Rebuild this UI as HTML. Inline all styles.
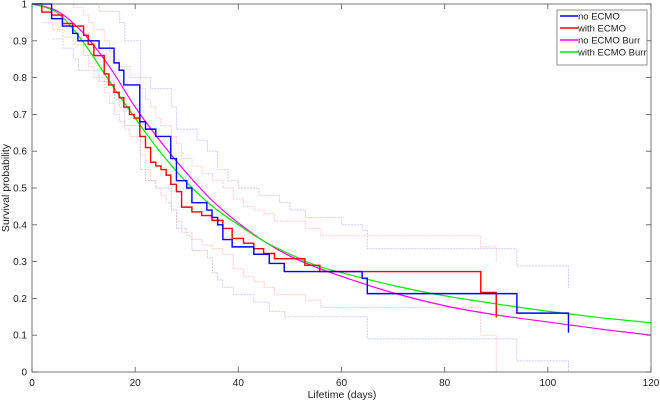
<!DOCTYPE html>
<html><head><meta charset="utf-8"><style>
body{margin:0;background:#fff;}
svg{display:block;font-family:"Liberation Sans",sans-serif;}
</style></head><body>
<svg id="chart" width="660" height="404" viewBox="0 0 660 404" xmlns="http://www.w3.org/2000/svg">
<rect x="0" y="0" width="660" height="404" fill="#fff"/>
<g id="bands"></g>
<g id="series"></g>
<g id="axes"></g>
<text x="342" y="398" font-size="10.5" text-anchor="middle" fill="#222">Lifetime (days)</text>
<text x="0" y="0" font-size="10.5" text-anchor="middle" fill="#222" transform="translate(9,188) rotate(-90)">Survival probability</text>
<g>
<rect x="557" y="10" width="90" height="55" fill="#fff" stroke="#777" stroke-width="0.8"/>
<g><line x1="560" y1="16" x2="578" y2="16" stroke="#0000ff" stroke-width="1.5"/><text x="578" y="19.5" font-size="9.5" fill="#222">no ECMO</text></g>
<g><line x1="560" y1="28" x2="578" y2="28" stroke="#ff0000" stroke-width="1.5"/><text x="578" y="31.5" font-size="9.5" fill="#222">with ECMO</text></g>
<g><line x1="560" y1="40" x2="578" y2="40" stroke="#ff00ff" stroke-width="1.5"/><text x="578" y="43.5" font-size="9.5" fill="#222">no ECMO Burr</text></g>
<g><line x1="560" y1="52" x2="578" y2="52" stroke="#00ee00" stroke-width="1.5"/><text x="578" y="55.5" font-size="9.5" fill="#222">with ECMO Burr</text></g>
</g>
</svg>
<script>
const xTicks=[0,20,40,60,80,100,120];
const yTicks=[0,0.1,0.2,0.3,0.4,0.5,0.6,0.7,0.8,0.9,1];
const yTickLabels=["0","0.1","0.2","0.3","0.4","0.5","0.6","0.7","0.8","0.9","1"];
const noEcmoDays=[0,3.8,5.9,7.9,8.9,13,15.9,16.9,17.8,20.9,22,24,26.9,28,30,31,33.9,34.9,36,37,38.8,43,46,48.9,64,65,94,104];
const noEcmoSurv=[1,0.96,0.94,0.92,0.90,0.88,0.84,0.82,0.78,0.68,0.66,0.64,0.58,0.52,0.50,0.46,0.44,0.42,0.40,0.36,0.34,0.32,0.295,0.273,0.255,0.213,0.16,0.107];
const withEcmoDays=[0,1.9,3.8,5.9,7.9,10,10.9,12,14,14.9,15.9,16.9,17.8,18.9,19.8,20.9,22,23,24,25,26,26.9,28,29,31,32.9,34.9,37,38.8,41,43,44.9,47,52.9,55.8,87,90];
const withEcmoSurv=[1,0.978,0.97,0.947,0.94,0.915,0.89,0.86,0.81,0.78,0.76,0.745,0.72,0.70,0.69,0.64,0.61,0.57,0.56,0.55,0.535,0.51,0.49,0.448,0.435,0.425,0.412,0.39,0.363,0.35,0.335,0.322,0.308,0.29,0.273,0.216,0.148];
const noEcmoUpDays=[0,13,17,18,21,23,27,28,32,34,36,38,40,44,48,50,53,60,64,65,94,104];
const noEcmoUpSurv=[1,0.98,0.95,0.9,0.8,0.77,0.72,0.66,0.63,0.6,0.55,0.52,0.5,0.48,0.46,0.44,0.42,0.40,0.385,0.335,0.288,0.228];
const noEcmoLoDays=[4,6,8,9,13,16,17,18,21,22,24,27,28,30,31,34,35,36,37,39,43,46,49,65,94,104];
const noEcmoLoSurv=[0.905,0.88,0.85,0.82,0.79,0.74,0.72,0.67,0.55,0.52,0.50,0.44,0.39,0.37,0.33,0.31,0.27,0.25,0.23,0.21,0.19,0.165,0.15,0.09,0.03,0];
const withEcmoUpDays=[0,8,10,11,12,14,15,16,17,19,21,22,23,24,25,27,28,29,31,33,35,37,39,41,43,45,47,53,56,87,90];
const withEcmoUpSurv=[1,0.99,0.97,0.95,0.93,0.9,0.87,0.85,0.83,0.8,0.77,0.74,0.72,0.69,0.67,0.64,0.62,0.58,0.56,0.54,0.52,0.5,0.47,0.45,0.44,0.43,0.41,0.39,0.37,0.34,0.30];
const withEcmoLoDays=[2,4,6,8,10,11,12,14,15,16,17,18,19,21,22,23,24,25,26,27,28,29,31,33,35,37,39,41,43,45,47,53,56,87,90];
const withEcmoLoSurv=[0.95,0.93,0.91,0.89,0.86,0.83,0.80,0.76,0.73,0.70,0.68,0.66,0.64,0.59,0.55,0.52,0.50,0.48,0.46,0.44,0.41,0.38,0.36,0.345,0.335,0.32,0.28,0.26,0.245,0.23,0.21,0.195,0.175,0.10,0];
const burrDays=[0,5,10,15,20,25,30,35,40,45,50,55,60,70,80,90,100,110,120];
const noEcmoBurr=[1,0.98,0.92,0.83,0.72,0.625,0.54,0.465,0.405,0.355,0.315,0.285,0.26,0.215,0.18,0.155,0.136,0.117,0.10];
const withEcmoBurr=[1,0.975,0.895,0.79,0.69,0.595,0.515,0.45,0.40,0.355,0.32,0.29,0.27,0.235,0.207,0.185,0.165,0.148,0.134];

const X0=32,X1=651,Y0=372,Y1=4;
const sx=d=>X0+(d/120)*(X1-X0);
const sy=v=>Y0-v*(Y0-Y1);
const NS="http://www.w3.org/2000/svg";
function mk(tag,attrs,parent){const e=document.createElementNS(NS,tag);for(const k in attrs)e.setAttribute(k,attrs[k]);parent.appendChild(e);return e;}
function stepPath(days,vals){
  let d="M"+sx(days[0])+","+sy(vals[0]);
  for(let i=1;i<days.length;i++){d+="H"+sx(days[i])+"V"+sy(vals[i]);}
  return d;
}
function smoothPath(days,vals){
  const p=days.map((d,i)=>[sx(d),sy(vals[i])]);
  let d="M"+p[0][0]+","+p[0][1];
  for(let i=0;i<p.length-1;i++){
    const a=p[Math.max(0,i-1)],b=p[i],c=p[i+1],e=p[Math.min(p.length-1,i+2)];
    const c1=[b[0]+(c[0]-a[0])/6,b[1]+(c[1]-a[1])/6];
    const c2=[c[0]-(e[0]-b[0])/6,c[1]-(e[1]-b[1])/6];
    d+="C"+c1[0]+","+c1[1]+" "+c2[0]+","+c2[1]+" "+c[0]+","+c[1];
  }
  return d;
}
const bands=document.getElementById('bands');
const bandDefs=[[noEcmoUpDays,noEcmoUpSurv,"#a8a8ff","no-ecmo-upper-ci"],[noEcmoLoDays,noEcmoLoSurv,"#a8a8ff","no-ecmo-lower-ci"],[withEcmoUpDays,withEcmoUpSurv,"#ffa8a8","with-ecmo-upper-ci"],[withEcmoLoDays,withEcmoLoSurv,"#ffa8a8","with-ecmo-lower-ci"]];
bandDefs.forEach(b=>{
  const el=mk('path',{d:stepPath(b[0],b[1]),fill:"none",stroke:b[2],"stroke-width":"0.9","stroke-dasharray":"2,1","stroke-opacity":"0.65"},bands);
  
  
});
const series=document.getElementById('series');
const mp=mk('path',{d:smoothPath(burrDays,noEcmoBurr),fill:"none",stroke:"#ff00ff","stroke-width":"1.2"},series);


const gp=mk('path',{d:smoothPath(burrDays,withEcmoBurr),fill:"none",stroke:"#00ee00","stroke-width":"1.2"},series);


const rp=mk('path',{d:stepPath(withEcmoDays,withEcmoSurv),fill:"none",stroke:"#ff0000","stroke-width":"1.4"},series);


const bp=mk('path',{d:stepPath(noEcmoDays,noEcmoSurv),fill:"none",stroke:"#0000ff","stroke-width":"1.4"},series);



const axes=document.getElementById('axes');
const fr=mk('rect',{x:X0,y:Y1,width:X1-X0,height:Y0-Y1,fill:"none",stroke:"#555","stroke-width":"0.8"},axes);


xTicks.forEach(t=>{
  const x=sx(t);
  mk('line',{x1:x,y1:Y0,x2:x,y2:Y0-5,stroke:"#555","stroke-width":"0.8"},axes);
  mk('line',{x1:x,y1:Y1,x2:x,y2:Y1+5,stroke:"#555","stroke-width":"0.8"},axes);
  const tx=mk('text',{x:x,y:Y0+14,"font-size":"10","text-anchor":"middle",fill:"#222"},axes);
  tx.textContent=String(t);
  
  
});
yTicks.forEach((t,i)=>{
  const y=sy(t);
  mk('line',{x1:X0,y1:y,x2:X0+5,y2:y,stroke:"#555","stroke-width":"0.8"},axes);
  mk('line',{x1:X1,y1:y,x2:X1-5,y2:y,stroke:"#555","stroke-width":"0.8"},axes);
  const ty=mk('text',{x:X0-5,y:y+3.5,"font-size":"10","text-anchor":"end",fill:"#222"},axes);
  ty.textContent=yTickLabels[i];
  
  
});
</script>
</body></html>
